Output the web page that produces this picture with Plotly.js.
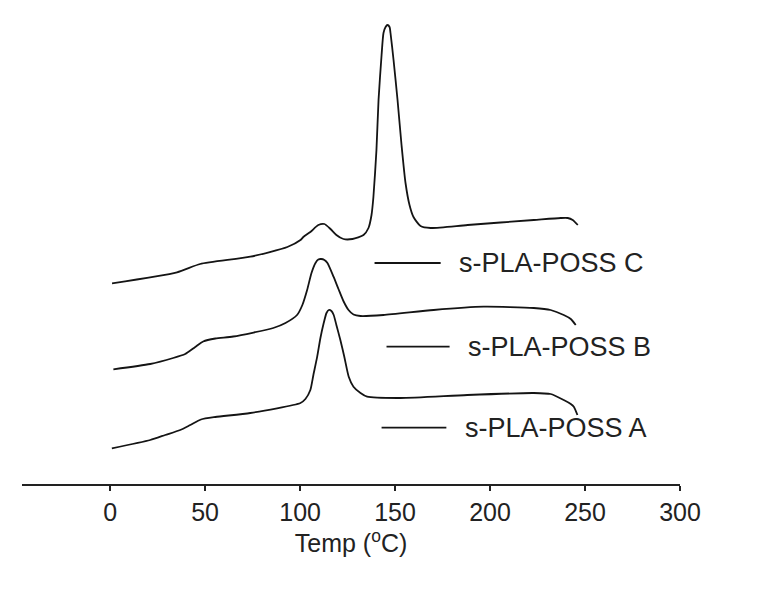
<!DOCTYPE html>
<html>
<head>
<meta charset="utf-8">
<script src="https://cdn.plot.ly/plotly-3.0.1.min.js"></script>
<style>html,body{margin:0;padding:0;background:#fff;}#chart{width:762px;height:595px;}</style>
</head>
<body>
<div id="chart"></div>
<script>
// Temperature (°C) and heat flow (a.u., vertically offset curves)
var tempC = [1, 35.2, 47.4, 73.8, 93.3, 100.2, 101.7, 105.4, 109.6, 112.8, 116, 119.1, 122.8, 127.6, 133.4, 136, 137.6, 138.6, 140.2, 141.3, 142.9, 143.9, 145, 146, 147.1, 147.6, 149.2, 151.3, 153.4, 155.5, 157.6, 159.7, 163.4, 168.7, 188.2, 223, 237.2, 240.9, 243.5, 246.2];
var heatC = [20.07, 21.17, 22.0, 22.73, 23.7, 24.4, 24.7, 25.2, 25.9, 26.0, 25.5, 24.9, 24.5, 24.5, 24.9, 25.6, 26.9, 28.7, 33.4, 38.4, 42.9, 45.1, 45.7, 45.9, 45.7, 45.1, 42.4, 38.4, 33.9, 30.1, 27.9, 26.7, 25.8, 25.6, 25.9, 26.4, 26.6, 26.6, 26.4, 25.9];

var tempB = [1.7, 21.1, 33.2, 39.5, 44.8, 49.0, 55.4, 64.8, 85.9, 92.3, 98.4, 101.2, 103.7, 106, 108.1, 109.6, 111.1, 112.8, 114.4, 117.6, 120.2, 122.8, 125.5, 128.1, 131.8, 143.9, 170.3, 196.6, 223, 231.9, 238.8, 242.5, 245.1];
var heatB = [11.47, 12.0, 12.6, 13.0, 13.7, 14.25, 14.55, 14.75, 15.6, 16.1, 16.9, 17.9, 19.4, 21.1, 22.1, 22.45, 22.5, 22.4, 22.1, 20.73, 19.5, 18.3, 17.4, 16.95, 16.8, 16.9, 17.4, 17.73, 17.6, 17.4, 16.9, 16.5, 15.9];

var tempA = [0.9, 21.1, 29, 36.9, 42.2, 47.8, 55.4, 73.8, 100.2, 102.8, 105.4, 107, 109, 110.7, 112.4, 113.9, 115.1, 116.5, 117.7, 119.1, 121.2, 123.3, 125.6, 128.1, 131.8, 135.3, 152.9, 188, 223, 231.9, 238.8, 242.5, 244.1, 246];
var heatA = [3.57, 4.4, 4.9, 5.4, 5.9, 6.45, 6.7, 7.1, 8.1, 8.5, 9.4, 10.9, 12.73, 14.6, 16.07, 17.1, 17.4, 17.3, 16.9, 15.9, 14.4, 12.7, 10.73, 9.73, 9.1, 8.73, 8.6, 8.9, 9.1, 9.0, 8.4, 8.0, 7.73, 6.9];

var seriesNames = ["s-PLA-POSS C", "s-PLA-POSS B", "s-PLA-POSS A"];
var tickValues = [0, 50, 100, 150, 200, 250, 300];
var tickLabels = ["0", "50", "100", "150", "200", "250", "300"];

// legend key placement (layout, in axis units): [x0, x1, y, textX]
var keyPlacement = [
  [139.2, 174.0, 22.1, 182.5],
  [145.5, 178.7, 13.73, 187.2],
  [142.9, 177.0, 5.63, 185.5]
];

var lineStyle = {color: "#141414", width: 1.8, shape: "spline", smoothing: 0.6};
var xs = [tempC, tempB, tempA];
var ys = [heatC, heatB, heatA];
var traces = xs.map(function (x, i) {
  return {x: x, y: ys[i], type: "scatter", mode: "lines", name: seriesNames[i], line: lineStyle, showlegend: false, hoverinfo: "skip"};
});

var font = "Liberation Sans, Arial, sans-serif";
var shapes = [], annotations = [];
keyPlacement.forEach(function (k, i) {
  shapes.push({type: "line", xref: "x", yref: "y", x0: k[0], x1: k[1], y0: k[2], y1: k[2], line: {color: "#141414", width: 1.8}});
  annotations.push({xref: "x", yref: "y", x: k[3], y: k[2], text: seriesNames[i], showarrow: false, xanchor: "left", yanchor: "middle", font: {family: font, size: 27, color: "#222"}});
});

var layout = {
  width: 762, height: 595,
  margin: {l: 22, r: 82, t: 0, b: 111, pad: 0},
  paper_bgcolor: "#fff", plot_bgcolor: "#fff",
  showlegend: false,
  xaxis: {
    range: [-46.4, 300],
    tickvals: tickValues, ticktext: tickLabels,
    ticks: "outside", ticklen: 5, tickwidth: 1.6, tickcolor: "#222",
    showline: true, linewidth: 1.6, linecolor: "#222",
    showgrid: false, zeroline: false,
    tickfont: {family: font, size: 25, color: "#222"},
    title: {text: "Temp (<sup>o</sup>C)", font: {family: font, size: 25, color: "#222"}, standoff: 0}
  },
  yaxis: {range: [0, 48.4], visible: false, showgrid: false, zeroline: false},
  shapes: shapes,
  annotations: annotations
};

Plotly.newPlot("chart", traces, layout, {staticPlot: true, displayModeBar: false});
</script>
</body>
</html>
